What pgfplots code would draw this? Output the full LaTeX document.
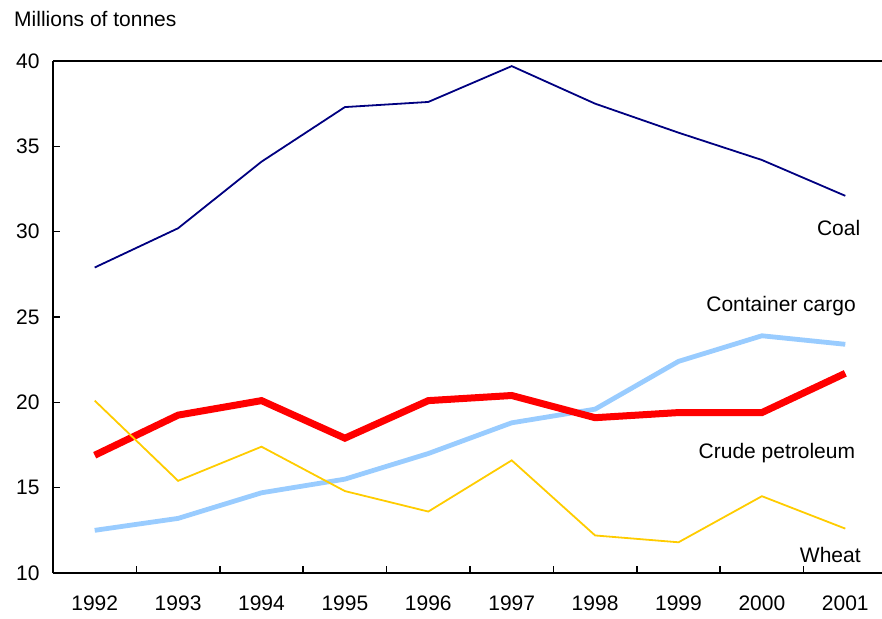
\documentclass[border=0pt]{standalone}
\usepackage{pgfplots}
\pgfplotsset{compat=1.18}
\usepackage{fontspec}
\setmainfont{Liberation Sans}
\definecolor{coalc}{HTML}{000080}
\definecolor{contc}{HTML}{99CCFF}
\definecolor{crudec}{HTML}{FF0000}
\definecolor{wheatc}{HTML}{FFCC00}
\begin{document}
\begin{tikzpicture}[x=1pt,y=1pt]
\useasboundingbox (0,0) rectangle (882,618);
\node[anchor=base west,font=\fontsize{21}{24}\selectfont,inner sep=0pt] at (14,591) {Millions of tonnes};
\begin{axis}[
  at={(53pt,45pt)}, anchor=south west,
  scale only axis, width=829pt, height=512pt,
  xmin=1991.5, xmax=2001.44, ymin=10, ymax=40,
  axis x line=bottom, axis y line=left,
  axis line style={-, line width=1.6pt, black},
  clip=false,
  xtick={1991.5,1992.5,...,2000.5},
  xticklabels={1992,1993,1994,1995,1996,1997,1998,1999,2000,2001},
  ytick={10,15,...,40},
  tick align=inside,
  major tick length=7pt,
  tick style={line width=1.6pt, black},
  /pgf/number format/assume math mode=true,
  /pgf/number format/1000 sep={},
  tick label style={font=\fontsize{21}{24}\selectfont},
  xticklabel style={xshift=41.7pt, yshift=-19pt},
  yticklabel style={xshift=-10pt},
]
\draw[line width=1.6pt] (rel axis cs:0,1) -- (rel axis cs:1,1);
\addplot[coalc, line width=1.8pt] coordinates {
(1992,27.9)(1993,30.2)(1994,34.1)(1995,37.3)(1996,37.6)(1997,39.7)(1998,37.5)(1999,35.8)(2000,34.2)(2001,32.1)};
\addplot[contc, line width=4.8pt] coordinates {
(1992,12.5)(1993,13.2)(1994,14.7)(1995,15.5)(1996,17.0)(1997,18.8)(1998,19.6)(1999,22.4)(2000,23.9)(2001,23.4)};
\addplot[crudec, line width=7pt] coordinates {
(1992,16.9)(1993,19.25)(1994,20.1)(1995,17.9)(1996,20.1)(1997,20.4)(1998,19.1)(1999,19.4)(2000,19.4)(2001,21.7)};
\addplot[wheatc, line width=1.8pt] coordinates {
(1992,20.1)(1993,15.4)(1994,17.4)(1995,14.8)(1996,13.6)(1997,16.6)(1998,12.2)(1999,11.8)(2000,14.5)(2001,12.6)};
\node[anchor=base, font=\fontsize{21}{24}\selectfont, inner sep=0pt] at (axis cs:2000.92,29.8) {Coal};
\node[anchor=base, font=\fontsize{21}{24}\selectfont, inner sep=0pt] at (axis cs:2000.23,25.35) {Container cargo};
\node[anchor=base, font=\fontsize{21}{24}\selectfont, inner sep=0pt] at (axis cs:2000.18,16.68) {Crude petroleum};
\node[anchor=base, font=\fontsize{21}{24}\selectfont, inner sep=0pt] at (axis cs:2000.82,10.64) {Wheat};
\end{axis}
\end{tikzpicture}
\end{document}
